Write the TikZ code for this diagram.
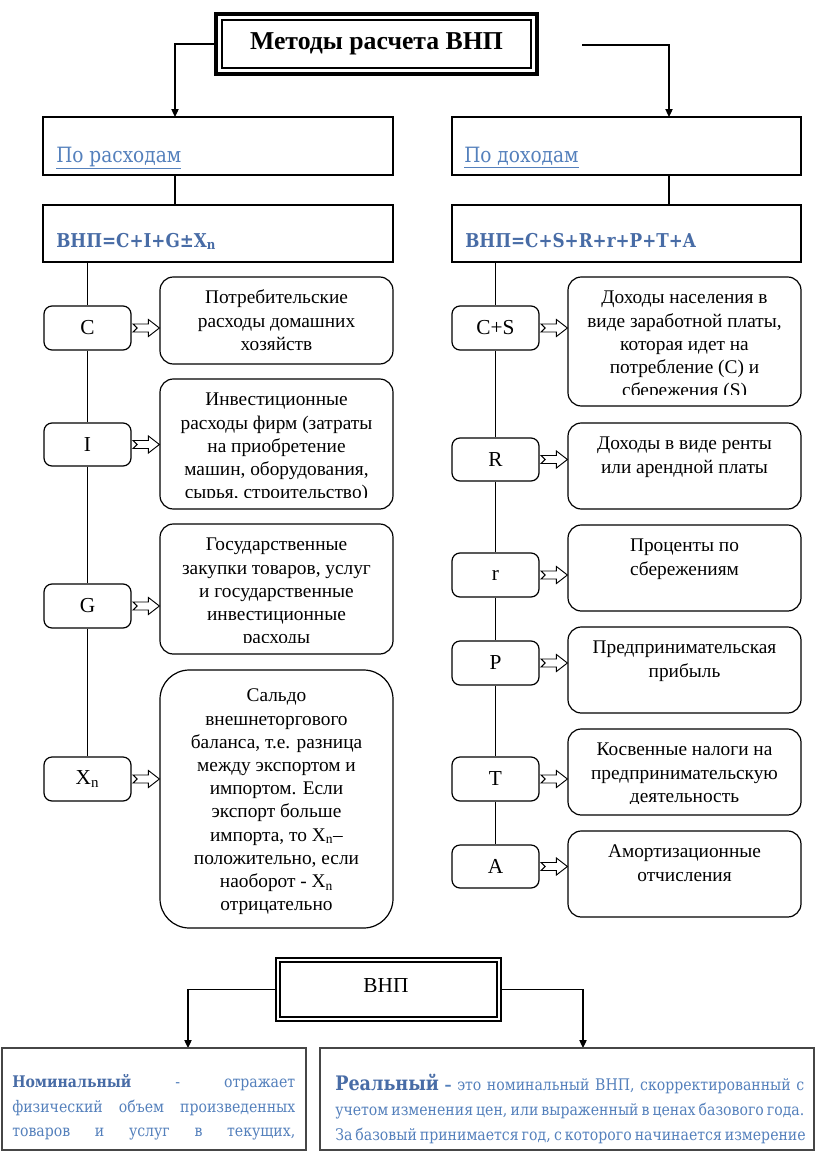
\documentclass[tikz,border=0pt]{standalone}
\usepackage{fontspec}
\setmainfont{Liberation Serif}
\newfontfamily\camb{DejaVu Serif}[FakeStretch=0.88]
\usetikzlibrary{arrows.meta,calc,fit}
\definecolor{hblue}{RGB}{84,128,188}
\definecolor{fblue}{RGB}{72,108,166}
\definecolor{bgrey}{RGB}{70,70,70}
\tikzset{
 conn/.style={line width=0.9pt, black},
 arr/.style={conn, -{Triangle[length=6pt,width=5.5pt]}},
 hdrbox/.style={draw, line width=0.9pt, inner sep=0pt},
 smallbox/.style={draw, line width=0.9pt, rounded corners=6pt, fill=white, inner sep=0pt},
 smalllabel/.style={inner sep=0pt, font=\fontsize{16}{18}\selectfont},
 bigbox/.style={draw, line width=0.9pt, inner sep=0pt},
 btext/.style={anchor=north, align=center, inner sep=0pt, font=\fontsize{14.5}{17.4}\selectfont},
 blkarr/.style={draw, line width=0.7pt, fill=white, line join=miter},
 botbox/.style={draw=bgrey, line width=1.2pt, inner sep=0pt},
 botline/.style={anchor=base west, inner sep=0pt, font=\camb\fontsize{12}{14}\selectfont, text=hblue},
 hdrtext/.style={anchor=base west, inner sep=0pt, font=\camb\fontsize{15.8}{18}\selectfont, text=hblue},
 fortext/.style={anchor=base west, inner sep=0pt, font=\camb\bfseries\fontsize{14.3}{16}\selectfont, text=fblue},
}
\newcommand\bigbx[8]{%
 \node[bigbox, rounded corners=#1, fit={(#3,#4) (#5,#6)}] (#2) {};
 \begin{scope}
 \clip (#3,#4) rectangle (#5,#6-12);
 \node[btext] (#2t) at ($(#2.north)+(0,#7)$) {\strut #8};
 \end{scope}}
\newcommand\smallbx[6]{%
 \node[smallbox, fit={(#2,#3) (#4,#5)}] (#1) {};
 \node[smalllabel] (#1l) at (#1.center) {#6};}
\newcommand\blkarrow[2]{%
 \path (#1.east -| #2.west) coordinate (tp);
 \draw[blkarr] ($(#1.east)+(1.5,-4)$) -- ($(tp)+(-11,-4)$) -- ($(tp)+(-11,-8.5)$) -- (tp) -- ($(tp)+(-11,8.5)$) -- ($(tp)+(-11,4)$) -- ($(#1.east)+(1.5,4)$) -- ($(#1.east)+(5.5,0)$) -- cycle;}
\begin{document}
\begin{tikzpicture}[x=0.75pt,y=-0.75pt]
\useasboundingbox[fill=white] (0,0) rectangle (816,1156);
% title
\node[draw, line width=2.8pt, inner sep=0pt, fit={(216,14) (537,74)}] (T) {};
\node[draw, line width=0.8pt, inner sep=0pt, fit={(222,20) (531,68)}] (Ti) {};
\node[font=\bfseries\fontsize{19.3}{22}\selectfont, inner sep=0pt] (Tt) at (T.center) {Методы расчета ВНП};
\coordinate (hlin) at (175,117);
\coordinate (hrin) at (669,117);
\coordinate (rs) at (582,45);
\draw[arr] (T.west) -| (hlin);
\draw[arr] (rs) -| (hrin);
% headers
\node[hdrbox, fit={(43,117) (393,175)}] (HL) {};
\node[hdrtext] (HLt) at (56,162) {\underline{По расходам}};
\node[hdrbox, fit={(452,117) (801,175)}] (HR) {};
\node[hdrtext] (HRt) at (464,162) {\underline{По доходам}};
\node[hdrbox, fit={(43,205) (393,262)}] (FL) {};
\node[fortext] (FLt) at (56,247) {ВНП=C+I+G±X\textsubscript{n}};
\node[hdrbox, fit={(452,205) (801,262)}] (FR) {};
\node[fortext] (FRt) at (465,247) {ВНП=C+S+R+r+P+T+A};
\draw[conn] (HL.south -| hlin) -- (FL.north -| hlin);
\draw[conn] (HR.south -| hrin) -- (FR.north -| hrin);
% left small boxes
\smallbx{C}{44}{306}{131}{350}{C}
\smallbx{I}{44}{423}{131}{466}{I}
\smallbx{G}{44}{584}{131}{628}{G}
\smallbx{X}{44}{757}{131}{801}{X\textsubscript{n}}
\draw[conn] (FL.south -| C.north) -- (C.north);
\draw[conn] (C.south) -- (I.north);
\draw[conn] (I.south) -- (G.north);
\draw[conn] (G.south) -- (X.north);
% right small boxes
\smallbx{CS}{452}{306}{539}{350}{C+S}
\smallbx{R}{452}{438}{539}{481}{R}
\smallbx{r}{452}{553}{539}{597}{r}
\smallbx{P}{452}{641}{539}{685}{P}
\smallbx{Tx}{452}{757}{539}{801}{T}
\smallbx{A}{452}{845}{539}{888}{A}
\draw[conn] (FR.south -| CS.north) -- (CS.north);
\draw[conn] (CS.south) -- (R.north);
\draw[conn] (R.south) -- (r.north);
\draw[conn] (r.south) -- (P.north);
\draw[conn] (P.south) -- (Tx.north);
\draw[conn] (Tx.south) -- (A.north);
% left big boxes
\bigbx{10pt}{Cb}{160}{277}{393}{364}{11}{Потребительские\\расходы домашних\\хозяйств}
\bigbx{10pt}{Ib}{160}{379}{393}{509}{11}{Инвестиционные\\расходы фирм (затраты\\на приобретение\\машин, оборудования,\\сырья, строительство)}
\bigbx{10pt}{Gb}{160}{524}{393}{654}{11}{Государственные\\закупки товаров, услуг\\и государственные\\инвестиционные\\расходы}
\bigbx{22pt}{Xb}{160}{670}{393}{928}{16}{Сальдо\\внешнеторгового\\баланса, т.е. разница\\между экспортом и\\импортом. Если\\экспорт больше\\импорта, то X\textsubscript{n}–\\положительно, если\\наоборот - X\textsubscript{n}\\отрицательно}
% right big boxes
\bigbx{10pt}{CSb}{568}{277}{801}{406}{11}{Доходы населения в\\виде заработной платы,\\которая идет на\\потребление (С) и\\сбережения (S)}
\bigbx{10pt}{Rb}{568}{423}{801}{509}{11}{Доходы в виде ренты\\или арендной платы}
\bigbx{10pt}{rb}{568}{525}{801}{611}{11}{Проценты по\\сбережениям}
\bigbx{10pt}{Pb}{568}{627}{801}{713}{11}{Предпринимательская\\прибыль}
\bigbx{10pt}{Tb}{568}{729}{801}{815}{11}{Косвенные налоги на\\предпринимательскую\\деятельность}
\bigbx{10pt}{Ab}{568}{831}{801}{917}{11}{Амортизационные\\отчисления}
% block arrows
\blkarrow{C}{Cb}
\blkarrow{I}{Ib}
\blkarrow{G}{Gb}
\blkarrow{X}{Xb}
\blkarrow{CS}{CSb}
\blkarrow{R}{Rb}
\blkarrow{r}{rb}
\blkarrow{P}{Pb}
\blkarrow{Tx}{Tb}
\blkarrow{A}{Ab}
% bottom
\node[draw, line width=0.8pt, inner sep=0pt, fit={(276,958) (501,1021)}] (V) {};
\node[draw, line width=0.8pt, inner sep=0pt, fit={(280,962) (497,1017)}] (Vi) {};
\node[font=\fontsize{16}{18}\selectfont, inner sep=0pt] (Vt) at (386,986) {ВНП};
\coordinate (nin) at (188,1048);
\coordinate (rin) at (583,1048);
\draw[arr] (V.west) -| (nin);
\draw[arr] (V.east) -| (rin);
\node[botbox, fit={(2,1048) (306,1150)}] (NB) {};
\node[botbox, fit={(320,1048) (814,1150)}] (RB) {};
\node[botline] (n1) at (12,1087) {\makebox[212.25pt][s]{{\bfseries\color{fblue}Номинальный} - отражает}};
\node[botline] (n2) at (12,1112) {\makebox[212.25pt][s]{физический объем произведенных}};
\node[botline] (n3) at (12,1136) {\makebox[212.25pt][s]{товаров и услуг в текущих,}};
\node[botline] (r1) at (335,1090) {\makebox[351.75pt][s]{{\fontsize{15}{18}\selectfont\bfseries\color{fblue}Реальный} {\bfseries –} это номинальный ВНП, скорректированный с}};
\node[botline] (r2) at (335,1115) {\makebox[351.75pt][s]{учетом изменения цен, или выраженный в ценах базового года.}};
\node[botline] (r3) at (335,1140) {\makebox[351.75pt][s]{За базовый принимается год, с которого начинается измерение}};
\end{tikzpicture}
\end{document}
